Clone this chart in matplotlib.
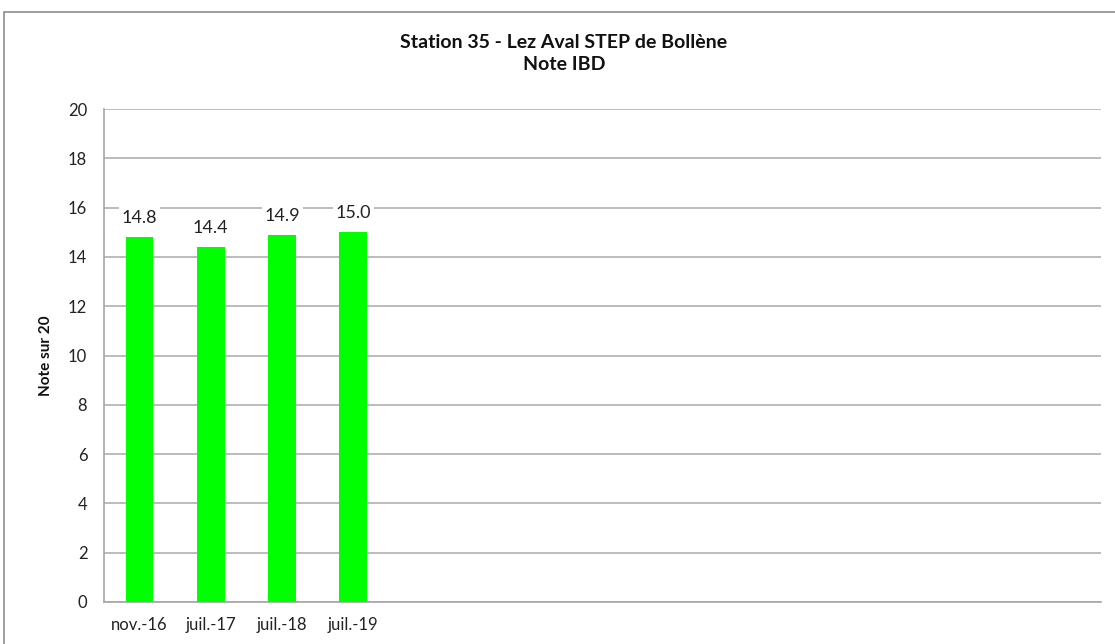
import matplotlib.pyplot as plt
from matplotlib.patches import Rectangle

# Survey dates and IBD scores (out of 20)
dates = ["nov.-16", "juil.-17", "juil.-18", "juil.-19"]
scores = [14.8, 14.4, 14.9, 15.0]
n_slots = 14  # category slots reserved on the axis
y_ticks = [0, 2, 4, 6, 8, 10, 12, 14, 16, 18, 20]

plt.rcParams['font.family'] = ['Lato', 'DejaVu Sans']

fig = plt.figure(figsize=(11.15, 6.44), dpi=100)
W, H = 1115, 644
ax = fig.add_axes([104 / W, 1 - 602 / H, (1101 - 104) / W, (602 - 109) / H])

# outer chart border
fig.patches.append(Rectangle((3.5 / W, -0.1), 1.2, 1 - 12 / H + 0.1,
                             transform=fig.transFigure, fill=False,
                             edgecolor='#8c8c8c', linewidth=1.2))

labels = dates + [""] * (n_slots - len(dates))
x = list(range(len(dates)))
bars = ax.bar(x, scores, width=0.39, color='#00ff00', zorder=3)

for xi, v in zip(x, scores):
    ax.text(xi, v + 0.45, f"{v:.1f}", ha='center', va='bottom', fontsize=13,
            color='#222222', zorder=4,
            bbox=dict(facecolor='white', edgecolor='none', pad=2))

ax.set_xlim(-0.5, n_slots - 0.5)
ax.set_ylim(0, 20)
ax.set_xticks(range(n_slots))
ax.set_xticklabels(labels, fontsize=12, color='#222222')
ax.set_yticks(y_ticks)
ax.set_yticklabels([str(t) for t in y_ticks], fontsize=12, color='#222222')
ax.tick_params(axis='both', length=0)
ax.tick_params(axis='x', pad=11)
ax.tick_params(axis='y', pad=12)

ax.yaxis.grid(True, color='#b0b0b0', linewidth=1.2, zorder=0)
ax.set_axisbelow(True)
for side in ['top', 'right']:
    ax.spines[side].set_visible(False)
for side in ['left', 'bottom']:
    ax.spines[side].set_color('#a6a6a6')
    ax.spines[side].set_linewidth(1.2)

ax.set_ylabel("Note sur 20", fontsize=11, fontweight='bold', color='#111111',
              labelpad=11)

fig.text(564 / W, 1 - 42 / H, "Station 35 - Lez Aval STEP de Bollène",
         ha='center', va='center', fontsize=14, fontweight='bold', color='#111111')
fig.text(564 / W, 1 - 65 / H, "Note IBD",
         ha='center', va='center', fontsize=14, fontweight='bold', color='#111111')

fig.savefig("out.png", dpi=100, facecolor='white')
